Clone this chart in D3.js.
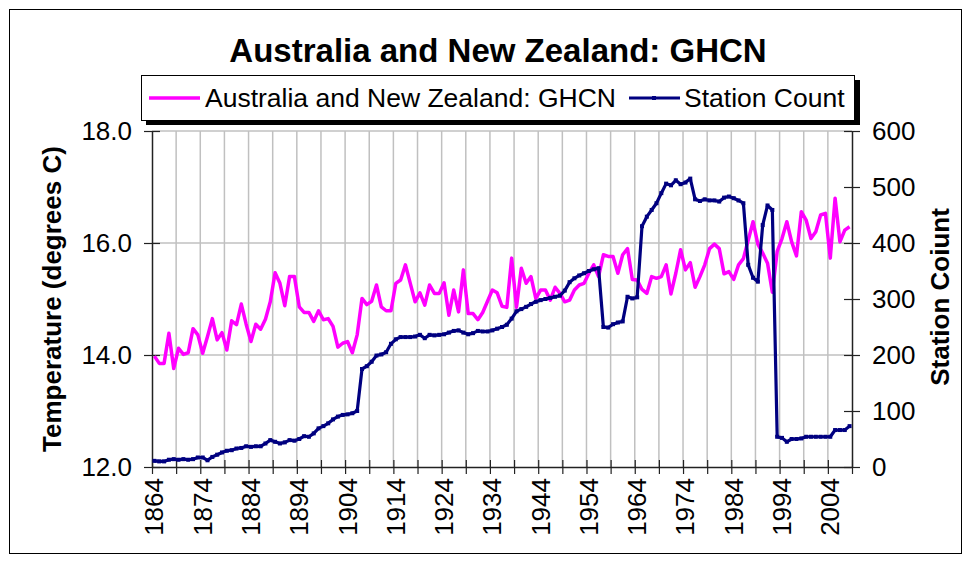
<!DOCTYPE html>
<html>
<head>
<meta charset="utf-8">
<script src="https://cdnjs.cloudflare.com/ajax/libs/d3/7.8.5/d3.min.js"></script>
<style>
  body { margin: 0; background: #fff; }
  text { font-family: Arial, "Liberation Sans", sans-serif; fill: #000; }
</style>
</head>
<body>
<div id="chart"></div>
<script>

// yearly categories 1864 .. 2008
var years = d3.range(1864, 2009);

var temps = [
  13.98, 13.85, 13.85, 14.39, 13.76, 14.12, 14.01, 14.04, 14.47, 14.36,
  14.03, 14.33, 14.65, 14.27, 14.40, 14.09, 14.61, 14.54, 14.91, 14.55,
  14.24, 14.55, 14.46, 14.64, 14.95, 15.47, 15.28, 14.88, 15.40, 15.40,
  14.86, 14.76, 14.76, 14.60, 14.79, 14.63, 14.65, 14.51, 14.14, 14.21,
  14.24, 14.04, 14.36, 15.01, 14.90, 14.96, 15.25, 14.86, 14.79, 14.79,
  15.28, 15.34, 15.61, 15.28, 14.95, 15.11, 14.89, 15.25, 15.10, 15.10,
  15.29, 14.71, 15.16, 14.77, 15.52, 14.74, 14.74, 14.63, 14.76, 14.96,
  15.16, 15.11, 14.87, 14.85, 15.73, 14.85, 15.55, 15.28, 15.40, 15.01,
  15.16, 15.16, 14.98, 15.21, 15.10, 14.95, 14.98, 15.16, 15.25, 15.28,
  15.46, 15.61, 15.40, 15.79, 15.76, 15.76, 15.46, 15.79, 15.90, 15.35,
  15.34, 15.17, 15.10, 15.40, 15.37, 15.40, 15.61, 15.09, 15.46, 15.88,
  15.52, 15.65, 15.21, 15.40, 15.61, 15.90, 15.98, 15.90, 15.45, 15.49,
  15.35, 15.61, 15.72, 16.05, 16.38, 15.98, 15.82, 15.64, 15.12, 15.85,
  16.08, 16.38, 16.02, 15.77, 16.56, 16.41, 16.08, 16.20, 16.50, 16.53,
  15.73, 16.80, 16.02, 16.23, 16.29
];

var stations = [
   11,  10,  10,  13,  14,  13,  14,  13,  14,  17,
   17,  12,  18,  22,  26,  29,  30,  33,  34,  37,
   36,  37,  37,  42,  48,  45,  42,  44,  48,  47,
   50,  55,  54,  60,  69,  73,  78,  85,  90,  93,
   94,  96, 100, 175, 180, 188, 199, 201, 205, 220,
  228, 232, 232, 232, 233, 236, 230, 236, 235, 236,
  237, 240, 243, 244, 240, 237, 239, 243, 242, 242,
  244, 247, 250, 254, 265, 278, 282, 286, 291, 295,
  298, 300, 302, 304, 306, 315, 330, 337, 342, 346,
  350, 353, 355, 250, 249, 255, 258, 260, 304, 301,
  303, 430, 447, 459, 471, 489, 506, 503, 512, 505,
  508, 515, 478, 475, 478, 476, 476, 474, 481, 483,
  480, 476, 471, 361, 338, 331, 432, 467, 459,  54,
   52,  45,  50,  50,  51,  54,  54,  54,  54,  54,
   54,  66,  66,  66,  73
];

var tempTicks = [12, 14, 16, 18];
var stationTicks = [0, 100, 200, 300, 400, 500, 600];
var yearLabels = [1864, 1874, 1884, 1894, 1904, 1914, 1924, 1934, 1944, 1954, 1964, 1974, 1984, 1994, 2004];

var svg = d3.select('#chart')
  .append('svg')
  .attr('width', 972)
  .attr('height', 563);

// outer frame
svg.append('rect')
  .attr('x', 9.5).attr('y', 9.5)
  .attr('width', 952).attr('height', 544)
  .attr('fill', '#fff')
  .attr('stroke', '#000')
  .attr('stroke-width', 1);

var x = d3.scaleLinear().domain([1864, 2009]).range([152, 852]);
var yT = d3.scaleLinear().domain([12, 18]).range([467, 131]);
var yS = d3.scaleLinear().domain([0, 600]).range([467, 131]);

// gridlines
svg.append('g').selectAll('line')
  .data(d3.range(1869, 2009, 5))
  .enter().append('line')
  .attr('x1', function(d){return x(d);})
  .attr('x2', function(d){return x(d);})
  .attr('y1', 131).attr('y2', 467)
  .attr('stroke', '#c0c0c0')
  .attr('stroke-width', 1.5);

svg.append('g').selectAll('line')
  .data([14, 16, 18])
  .enter().append('line')
  .attr('x1', 152).attr('x2', 852)
  .attr('y1', function(d){return yT(d);})
  .attr('y2', function(d){return yT(d);})
  .attr('stroke', '#c0c0c0')
  .attr('stroke-width', 1.5);

// axes
function styleAxis(g, a, b, dir) {
  g.select('.domain').attr('stroke', '#222').attr('stroke-width', 1.5);
  g.selectAll('.tick line').attr('stroke', '#222').attr('stroke-width', 1.2)
    .attr(dir + '1', a).attr(dir + '2', b);
  g.selectAll('.tick text').attr('font-size', 26);
}

var gx = svg.append('g')
  .attr('transform', 'translate(0,467)')
  .call(d3.axisBottom(x).tickValues(d3.range(1864, 2010, 5)).tickFormat('').tickSizeOuter(0));
styleAxis(gx, -7, 7, 'y');

svg.append('g').selectAll('text')
  .data(yearLabels)
  .enter().append('text')
  .attr('transform', function(d){return 'translate(' + (x(d + 0.5) + 9) + ',478) rotate(-90)';})
  .attr('text-anchor', 'end')
  .attr('font-size', 26)
  .text(function(d){return d;});

var gl = svg.append('g')
  .attr('transform', 'translate(152,0)')
  .call(d3.axisLeft(yT).tickValues(tempTicks).tickFormat(d3.format('.1f')).tickSizeOuter(0).tickPadding(14));
styleAxis(gl, -8, 8, 'x');

var gr = svg.append('g')
  .attr('transform', 'translate(852,0)')
  .call(d3.axisRight(yS).tickValues(stationTicks).tickSizeOuter(0).tickPadding(14));
styleAxis(gr, -8, 8, 'x');

// series
var tempLine = d3.line()
  .x(function(d, i){return x(years[i] + 0.5);})
  .y(function(d){return yT(d);});

var stationLine = d3.line()
  .x(function(d, i){return x(years[i] + 0.5);})
  .y(function(d){return yS(d);});

svg.append('path')
  .datum(temps)
  .attr('d', tempLine)
  .attr('fill', 'none')
  .attr('stroke', '#ff00ff')
  .attr('stroke-width', 3.5)
  .attr('stroke-linejoin', 'round');

svg.append('path')
  .datum(stations)
  .attr('d', stationLine)
  .attr('fill', 'none')
  .attr('stroke', '#000080')
  .attr('stroke-width', 3.2)
  .attr('stroke-linejoin', 'round');

svg.append('g').selectAll('rect')
  .data(stations)
  .enter().append('rect')
  .attr('x', function(d, i){return x(years[i] + 0.5) - 2;})
  .attr('y', function(d){return yS(d) - 2;})
  .attr('width', 4).attr('height', 4)
  .attr('fill', '#000080');

// axis titles
svg.append('text')
  .attr('transform', 'translate(61,299) rotate(-90)')
  .attr('text-anchor', 'middle')
  .attr('font-size', 26)
  .attr('font-weight', 'bold')
  .text('Temperature (degrees C)');

svg.append('text')
  .attr('transform', 'translate(949,297) rotate(-90)')
  .attr('text-anchor', 'middle')
  .attr('font-size', 26)
  .attr('font-weight', 'bold')
  .text('Station Coiunt');

// title
svg.append('text')
  .attr('x', 498).attr('y', 62)
  .attr('text-anchor', 'middle')
  .attr('font-size', 33)
  .attr('font-weight', 'bold')
  .text('Australia and New Zealand: GHCN');

// legend
var legend = svg.append('g');
legend.append('rect')
  .attr('x', 146).attr('y', 80).attr('width', 714).attr('height', 45)
  .attr('fill', '#000');
legend.append('rect')
  .attr('x', 141.5).attr('y', 75.5).attr('width', 713).attr('height', 45)
  .attr('fill', '#fff').attr('stroke', '#000').attr('stroke-width', 1);

legend.append('line')
  .attr('x1', 149).attr('x2', 200).attr('y1', 98).attr('y2', 98)
  .attr('stroke', '#ff00ff').attr('stroke-width', 3.5);
legend.append('text')
  .attr('x', 205).attr('y', 107)
  .attr('font-size', 26.5)
  .text('Australia and New Zealand: GHCN');

legend.append('line')
  .attr('x1', 629).attr('x2', 680).attr('y1', 98).attr('y2', 98)
  .attr('stroke', '#000080').attr('stroke-width', 3.2);
legend.append('rect')
  .attr('x', 652).attr('y', 96).attr('width', 4).attr('height', 4)
  .attr('fill', '#000080');
legend.append('text')
  .attr('x', 684).attr('y', 107)
  .attr('font-size', 26.5)
  .text('Station Count');

</script>
</body>
</html>
